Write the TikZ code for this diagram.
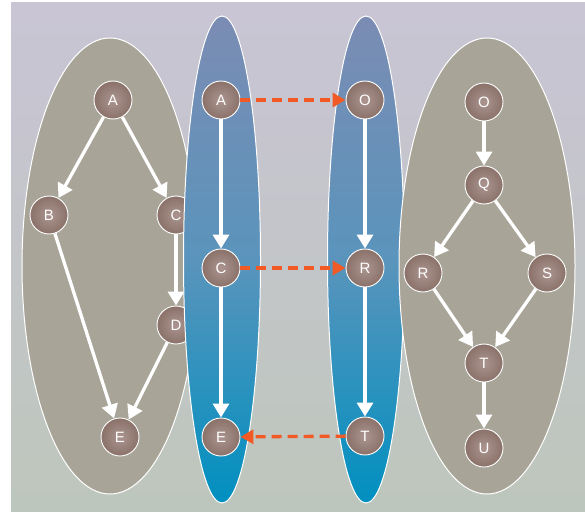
\documentclass[tikz,border=0pt]{standalone}
\usepackage{fontspec}
\setsansfont{Liberation Sans}
\usetikzlibrary{arrows.meta}
\definecolor{bgtop}{HTML}{C9C5D5}
\definecolor{bgbot}{HTML}{BDC6BC}
\definecolor{grayell}{HTML}{A8A598}
\definecolor{bluetop}{HTML}{7B8CB3}
\definecolor{bluemid}{HTML}{5A94BC}
\definecolor{bluebot}{HTML}{0090C0}
\definecolor{nodeout}{HTML}{8A726A}
\definecolor{nodein}{HTML}{AC9590}
\definecolor{orangeln}{HTML}{F15A24}
\tikzset{
  vtx/.style={circle, minimum size=38pt, inner sep=0pt, draw=white, line width=0.9pt,
    inner color=nodein, outer color=nodeout, text=white,
    font=\sffamily\fontsize{15}{15}\selectfont},
  edge/.style={draw=white, line width=3.3pt, -{Triangle[length=14pt,width=16pt]}},
  link/.style={draw=orangeln, line width=3.3pt, dash pattern=on 10pt off 6pt,
    -{Triangle[length=13pt,width=14pt]}},
  grayellipse/.style={fill=grayell, draw=white, line width=1pt},
  blueellipse/.style={top color=bluetop, bottom color=bluebot, middle color=bluemid, draw=white, line width=1pt}
}
\begin{document}
\begin{tikzpicture}[x=1pt,y=-1pt]
\useasboundingbox (0,0) rectangle (585,513);
\fill[white] (0,0) rectangle (585,513);
\shade[top color=bgtop, bottom color=bgbot] (11,3) rectangle (585,511);
% left gray ellipse
\path[grayellipse] (110,266) ellipse [x radius=88, y radius=228];
\node[vtx] (lA) at (113,100) {A};
\node[vtx] (lB) at (49,215) {B};
\node[vtx] (lC) at (176,215) {C};
\node[vtx] (lD) at (176,325) {D};
\node[vtx] (lE) at (120,437) {E};
\draw[edge] (lA) -- (lB);
\draw[edge] (lA) -- (lC);
\draw[edge] (lC) -- (lD);
\draw[edge] (lB) -- (lE);
\draw[edge] (lD) -- (lE);
% blue ellipses
\path[blueellipse] (222,259.5) ellipse [x radius=38.5, y radius=243.5];
\path[blueellipse] (366,259.5) ellipse [x radius=38.5, y radius=243.5];
\node[vtx] (mA) at (221,100) {A};
\node[vtx] (mC) at (221,268) {C};
\node[vtx] (mE) at (221,437) {E};
\node[vtx] (mO) at (365,100) {O};
\node[vtx] (mR) at (365,268) {R};
\node[vtx] (mT) at (365,436) {T};
\draw[edge] (mA) -- (mC);
\draw[edge] (mC) -- (mE);
\draw[edge] (mO) -- (mR);
\draw[edge] (mR) -- (mT);
\draw[link] (mA) -- (mO);
\draw[link] (mC) -- (mR);
\draw[link] (mT) -- (mE);
% right gray ellipse
\path[grayellipse] (487,266) ellipse [x radius=88, y radius=228];
\node[vtx] (rO) at (484,102) {O};
\node[vtx] (rQ) at (484,185) {Q};
\node[vtx] (rR) at (423,273) {R};
\node[vtx] (rS) at (547,273) {S};
\node[vtx] (rT) at (484,363) {T};
\node[vtx] (rU) at (484,448) {U};
\draw[edge] (rO) -- (rQ);
\draw[edge] (rQ) -- (rR);
\draw[edge] (rQ) -- (rS);
\draw[edge] (rR) -- (rT);
\draw[edge] (rS) -- (rT);
\draw[edge] (rT) -- (rU);
\end{tikzpicture}
\end{document}
